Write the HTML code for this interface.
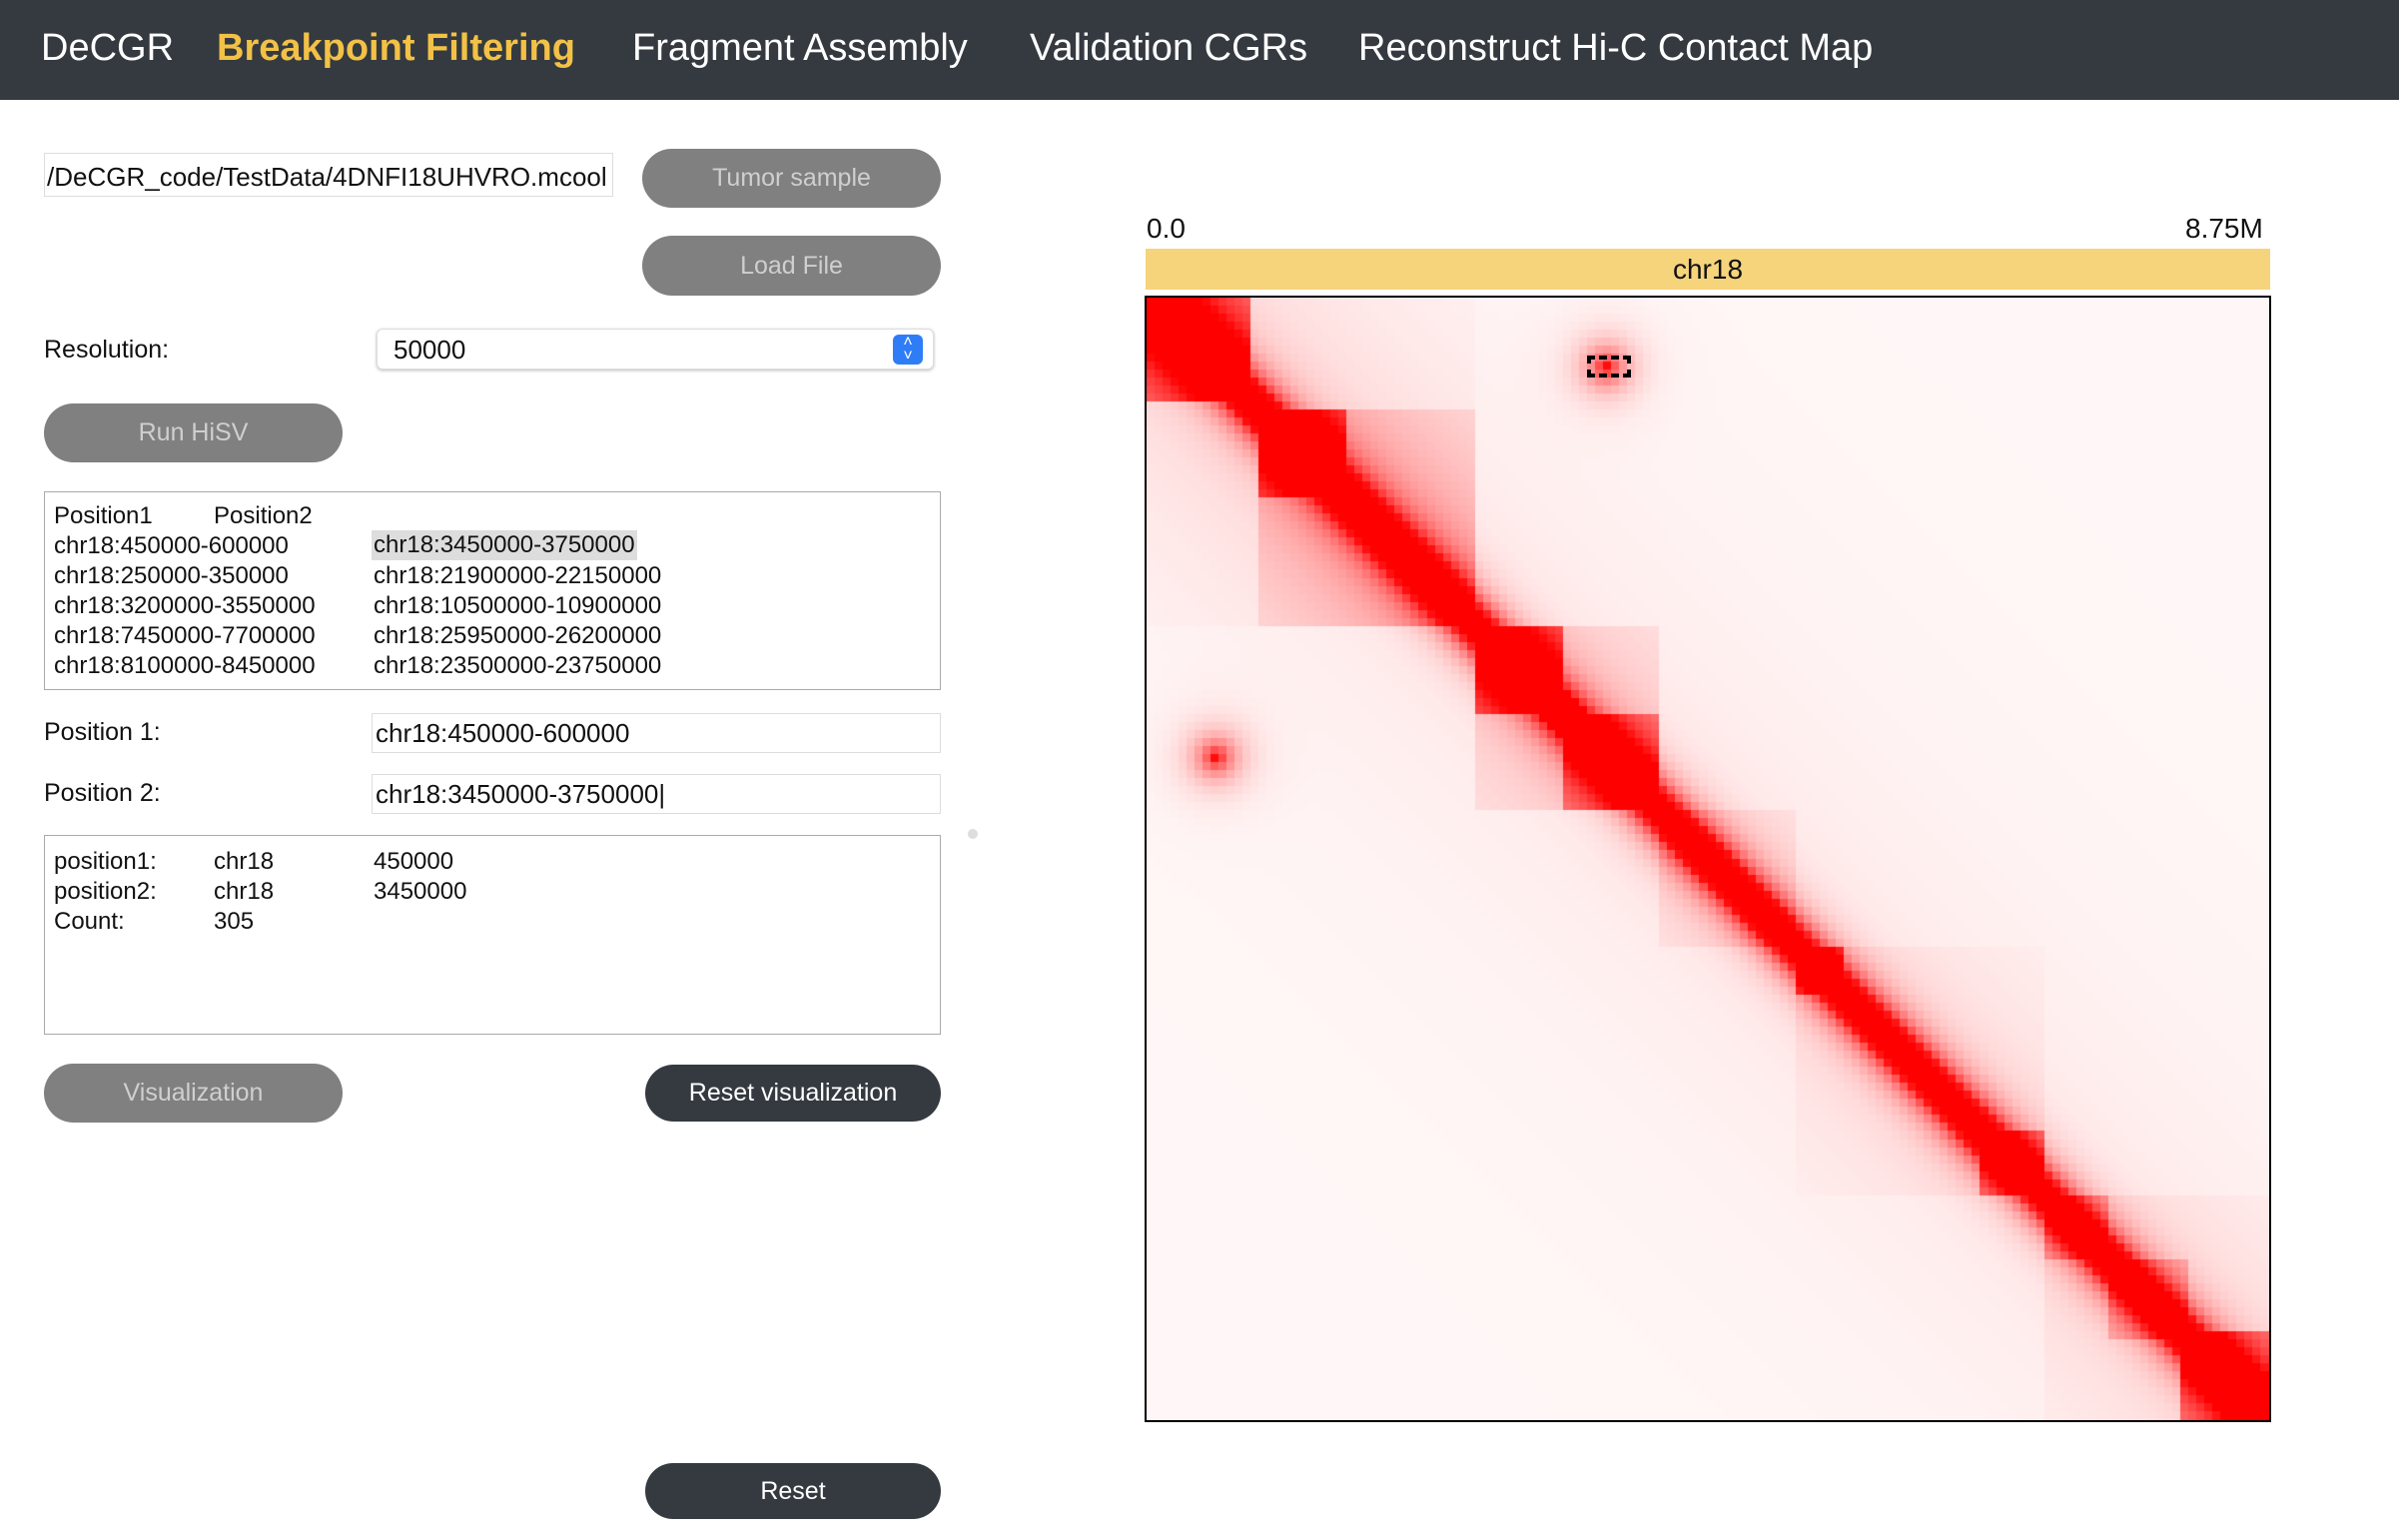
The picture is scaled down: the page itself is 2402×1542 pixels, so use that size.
<!DOCTYPE html>
<html><head><meta charset="utf-8">
<style>
body{margin:0;width:2402px;height:1542px;background:#fff;font-family:"Liberation Sans",sans-serif;position:relative;overflow:hidden;color:#111}
.a{position:absolute}
.nav{left:0;top:0;width:2402px;height:100px;background:#343a40}
.ni{top:27px;font-size:38px;color:#fff;white-space:nowrap}
.btn{border-radius:30px;background:#808080;color:#cfcfcf;font-size:25px;text-align:center;box-sizing:border-box}
.dark{background:#343a40;color:#fff}
.lbl{font-size:25px}
.inp{border:1px solid #ddd;box-sizing:border-box;font-size:26px;background:#fff}
.box{border:1.5px solid #aaa;box-sizing:border-box}
.t{font-size:24px;white-space:nowrap}
</style></head><body>
<div class="a nav">
 <div class="a ni" style="left:41px">DeCGR</div>
 <div class="a ni" style="left:217px;color:#f2c146;font-weight:bold">Breakpoint Filtering</div>
 <div class="a ni" style="left:633px">Fragment Assembly</div>
 <div class="a ni" style="left:1031px">Validation CGRs</div>
 <div class="a ni" style="left:1360px">Reconstruct Hi-C Contact Map</div>
</div>
<div class="a inp" style="left:44px;top:153px;width:570px;height:44px;padding:8px 2px;overflow:hidden;white-space:nowrap">/DeCGR_code/TestData/4DNFI18UHVRO.mcool</div>
<div class="a btn" style="left:643px;top:149px;width:299px;height:59px;line-height:59px">Tumor sample</div>
<div class="a btn" style="left:643px;top:236px;width:299px;height:60px;line-height:60px">Load File</div>
<div class="a lbl" style="left:44px;top:336px">Resolution:</div>
<div class="a inp" style="left:377px;top:329px;width:558px;height:41px;border-radius:6px;box-shadow:0 1px 3px #bbb;padding:5px 16px">50000
 <div class="a" style="right:10px;top:5px;width:30px;height:30px;background:#2f7df6;border-radius:6px;color:#fff;font-size:16px;line-height:14px;text-align:center;padding-top:1px;box-sizing:border-box">˄<br>˅</div></div>
<div class="a btn" style="left:44px;top:404px;width:299px;height:59px;line-height:59px">Run HiSV</div>
<div class="a box" style="left:44px;top:492px;width:898px;height:199px">
 <div class="a t" style="left:9px;top:10px">Position1</div><div class="a t" style="left:169px;top:10px">Position2</div>
 <div class="a t" style="left:9px;top:40px">chr18:450000-600000</div><div class="a t" style="left:327px;top:38px;background:#ddd;padding:1px 2px">chr18:3450000-3750000</div>
 <div class="a t" style="left:9px;top:70px">chr18:250000-350000</div><div class="a t" style="left:329px;top:70px">chr18:21900000-22150000</div>
 <div class="a t" style="left:9px;top:100px">chr18:3200000-3550000</div><div class="a t" style="left:329px;top:100px">chr18:10500000-10900000</div>
 <div class="a t" style="left:9px;top:130px">chr18:7450000-7700000</div><div class="a t" style="left:329px;top:130px">chr18:25950000-26200000</div>
 <div class="a t" style="left:9px;top:160px">chr18:8100000-8450000</div><div class="a t" style="left:329px;top:160px">chr18:23500000-23750000</div>
</div>
<div class="a lbl" style="left:44px;top:719px">Position 1:</div>
<div class="a inp" style="left:372px;top:714px;width:570px;height:40px;padding:4px 3px">chr18:450000-600000</div>
<div class="a lbl" style="left:44px;top:780px">Position 2:</div>
<div class="a inp" style="left:372px;top:775px;width:570px;height:40px;padding:4px 3px">chr18:3450000-3750000|</div>
<div class="a box" style="left:44px;top:836px;width:898px;height:200px">
 <div class="a t" style="left:9px;top:12px">position1:</div><div class="a t" style="left:169px;top:12px">chr18</div><div class="a t" style="left:329px;top:12px">450000</div>
 <div class="a t" style="left:9px;top:42px">position2:</div><div class="a t" style="left:169px;top:42px">chr18</div><div class="a t" style="left:329px;top:42px">3450000</div>
 <div class="a t" style="left:9px;top:72px">Count:</div><div class="a t" style="left:169px;top:72px">305</div>
</div>
<div class="a" style="left:969px;top:830px;width:10px;height:10px;border-radius:5px;background:#ddd"></div>
<div class="a btn" style="left:44px;top:1065px;width:299px;height:59px;line-height:59px">Visualization</div>
<div class="a btn dark" style="left:646px;top:1066px;width:296px;height:57px;line-height:57px">Reset visualization</div>
<div class="a btn dark" style="left:646px;top:1465px;width:296px;height:56px;line-height:56px">Reset</div>

<div class="a" style="left:1148px;top:213px;font-size:28px">0.0</div>
<div class="a" style="left:2188px;top:213px;font-size:28px">8.75M</div>
<div class="a" style="left:1147px;top:249px;width:1126px;height:41px;background:#f5d47c;text-align:center;font-size:28px;line-height:41px">chr18</div>
<div class="a" style="left:1146px;top:296px;width:1124px;height:1124px;border:2px solid #000">
 <canvas id="hm" width="1124" height="1124" style="display:block"></canvas>
 <div class="a" style="left:441px;top:58px;width:36px;height:14px;border:4px dashed #000"></div>
</div>
<script>
const nBins = 140;
const domainStart = [0, 0.097, 0.097, 0, 0.29, 0.37, 0.29, 0.46, 0.58, 0.58, 0.74, 0.80, 0.86, 0.92, 0.80];
const domainEnd   = [0.09, 0.18, 0.29, 0.29, 0.37, 0.46, 0.46, 0.58, 0.62, 0.80, 0.80, 0.86, 0.93, 1.0, 1.0];
const domainStrength = [0.9, 0.7, 0.3, 0.1, 0.8, 0.6, 0.2, 0.1, 0.5, 0.07, 0.5, 0.25, 0.25, 0.7, 0.08];
const hotRow = [0.062];
const hotCol = [0.41];
const hotStrength = [1.0];
const cv = document.getElementById('hm');
const ctx = cv.getContext('2d');
const W = cv.width, H = cv.height;
const cw = W / nBins, ch = H / nBins;
function val(i, j) {
  const x = (i + 0.5) / nBins, y = (j + 0.5) / nBins, d = Math.abs(x - y);
  let v = 0.03 + 0.08 * Math.exp(-d / 0.2) + 2.5 * Math.exp(-d / 0.018);
  for (let k = 0; k < domainStart.length; k++) {
    if (x >= domainStart[k] && x <= domainEnd[k] && y >= domainStart[k] && y <= domainEnd[k]) v += domainStrength[k] * Math.exp(-d / 0.15);
  }
  for (let k = 0; k < hotRow.length; k++) {
    const a = Math.hypot(y - hotRow[k], x - hotCol[k]), b = Math.hypot(x - hotRow[k], y - hotCol[k]);
    v += hotStrength[k] * (Math.exp(-a / 0.015) + Math.exp(-b / 0.015));
  }
  return Math.min(1, v);
}
ctx.fillStyle = '#fff'; ctx.fillRect(0, 0, W, H);
for (let i = 0; i < nBins; i++) for (let j = 0; j < nBins; j++) {
  const t = val(i, j), g = Math.round(255 * (1 - t));
  ctx.fillStyle = 'rgb(255,' + g + ',' + g + ')';
  ctx.fillRect(Math.floor(i * cw), Math.floor(j * ch), Math.ceil(cw) + 1, Math.ceil(ch) + 1);
}
</script>
</body></html>
